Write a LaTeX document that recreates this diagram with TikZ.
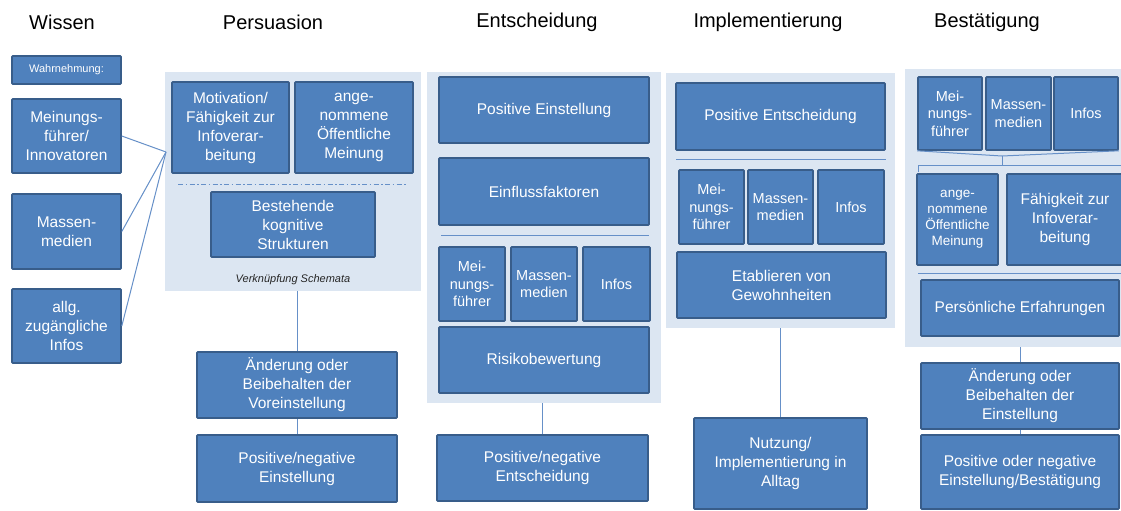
\documentclass[tikz,border=0pt]{standalone}
\usepackage{fontspec}
\setmainfont{Liberation Sans}
\definecolor{boxfill}{HTML}{4F81BD}
\definecolor{boxline}{HTML}{385D8A}
\definecolor{panelfill}{HTML}{DCE6F2}
\definecolor{linkcol}{HTML}{6690C8}
\tikzset{
  box/.style={draw=boxline, line width=1.6pt, fill=boxfill, text=white,
    align=center, inner sep=1pt, rounded corners=0.8pt,
    font=\fontsize{15.5}{19}\selectfont},
  small/.style={font=\fontsize{14.5}{17.5}\selectfont},
  tiny/.style={font=\fontsize{13.5}{16}\selectfont},
  pan/.style={fill=panelfill, draw=none, inner sep=0pt},
  title/.style={font=\fontsize{20}{24}\selectfont, inner sep=0pt},
  link/.style={draw=linkcol, line width=1pt},
  sep/.style={draw=linkcol, line width=1pt},
}
% rectangle node from its corners: [style]{name}{x1}{y1}{x2}{y2}{text}
\newcommand\rect[7][]{\node[#1, minimum width={(#5-#3)*1pt}, minimum height={(#6-#4)*1pt}]
  (#2) at ({(#3+#5)/2},{(#4+#6)/2}) {#7};}
\begin{document}
\begin{tikzpicture}[x=1pt, y=-1pt]
\useasboundingbox (0,0) rectangle (1121,511);
\fill[white] (0,0) rectangle (1121,511);

% column headings
\node[title] (tW) at (62,22) {Wissen};
\node[title] (tP) at (273,22) {Persuasion};
\node[title] (tE) at (537,22) {Entscheidung};
\node[title] (tI) at (768,22) {Implementierung};
\node[title] (tB) at (987,22) {Bestätigung};

% background panels
\rect[pan]{ppan}{165}{72}{421}{291}{}
\rect[pan]{epan}{427}{72}{661}{403}{}
\rect[pan]{ipan}{666}{73}{895}{328}{}
\rect[pan]{bpan}{905}{69}{1125}{347}{}

% Wissen
\rect[box, font=\fontsize{11}{13}\selectfont]{wahr}{12}{56}{121}{84}{Wahrnehmung:}
\rect[box]{wmf}{12}{99}{121}{173}{Meinungs-\\führer/\\Innovatoren}
\rect[box]{wmm}{12}{194}{121}{269}{Massen-\\medien}
\rect[box]{wai}{12}{289}{121}{363}{allg.\\zugängliche\\Infos}
\coordinate (hub) at (166,152);
\draw[link] (wmf.east) -- (hub);
\draw[link] (wmm.east) -- (hub);
\draw[link] (wai.east) -- (hub);

% Persuasion
\rect[box]{pmot}{172}{82}{289}{173}{Motivation/\\Fähigkeit zur\\Infoverar-\\beitung}
\rect[box]{poef}{295}{82}{413}{173}{ange-\\nommene\\Öffentliche\\Meinung}
\draw[sep, dash pattern=on 5pt off 2.5pt on 1.5pt off 2.5pt] (178,184) -- (406,184);
\rect[box]{pbks}{211}{192}{375}{257}{Bestehende\\kognitive\\Strukturen}
\node[font=\fontsize{11}{13}\selectfont\itshape, text=black!85] (pvs) at (293,280) {Verknüpfung Schemata};
\rect[box]{paen}{197}{352}{397}{418}{Änderung oder\\Beibehalten der\\Voreinstellung}
\rect[box]{ppne}{197}{435}{397}{502}{Positive/negative\\Einstellung}
\draw[link] (ppan.south -| paen.north) -- (paen.north);
\draw[link] (paen.south) -- (ppne.north);

% Entscheidung
\rect[box]{epe}{439}{77}{649}{143}{Positive Einstellung}
\rect[box]{eef}{439}{158}{649}{225}{Einflussfaktoren}
\draw[sep] (441,235) -- (649,235);
\rect[box,small]{emf}{439}{247}{505}{321}{Mei-\\nungs-\\führer}
\rect[box,small]{emm}{511}{247}{577}{321}{Massen-\\medien}
\rect[box,small]{ein}{583}{247}{650}{321}{Infos}
\rect[box]{erb}{439}{327}{649}{393}{Risikobewertung}
\rect[box]{epne}{437}{435}{648}{501}{Positive/negative\\Entscheidung}
\draw[link] (epan.south -| epne.north) -- (epne.north);

% Implementierung
\rect[box]{ipe}{676}{83}{885}{150}{Positive Entscheidung}
\draw[sep] (676,159) -- (886,159);
\rect[box,small]{imf}{679}{170}{744}{244}{Mei-\\nungs-\\führer}
\rect[box,small]{imm}{748}{170}{813}{244}{Massen-\\medien}
\rect[box,small]{iin}{818}{170}{884}{244}{Infos}
\rect[box]{ieg}{677}{252}{886}{318}{Etablieren von\\Gewohnheiten}
\rect[box]{inu}{694}{418}{867}{509}{Nutzung/\\Implementierung in\\Alltag}
\draw[link] (ipan.south -| inu.north) -- (inu.north);

% Bestätigung
\rect[box,small]{bmf}{918}{77}{982}{150}{Mei-\\nungs-\\führer}
\rect[box,small]{bmm}{986}{77}{1051}{150}{Massen-\\medien}
\rect[box,small]{bin}{1054}{77}{1118}{150}{Infos}
\coordinate (bj) at (1002,156);
\coordinate (bl) at (918,165);
\coordinate (br) at (1121,165);
\draw[link] (bmf.south west) -- (bj) -- (bin.south east);
\draw[link] (bj) -- (bj |- bl);
\draw[link] ([yshift=-7pt]bl) -- (bl) -- (br) -- ([yshift=-7pt]br);
\rect[box,tiny]{boef}{917}{174}{998}{265}{ange-\\nommene\\Öffentliche\\Meinung}
\rect[box]{bfi}{1007}{174}{1123}{265}{Fähigkeit zur\\Infoverar-\\beitung}
\draw[sep] (918,273) -- (1121,273);
\rect[box]{bpe}{921}{280}{1119}{336}{Persönliche Erfahrungen}
\rect[box]{bae}{921}{363}{1119}{429}{Änderung oder\\Beibehalten der\\Einstellung}
\rect[box]{bpo}{921}{435}{1119}{509}{Positive oder negative\\Einstellung/Bestätigung}
\draw[link] (bpan.south -| bae.north) -- (bae.north);
\draw[link] (bae.south) -- (bpo.north);
\end{tikzpicture}
\end{document}
